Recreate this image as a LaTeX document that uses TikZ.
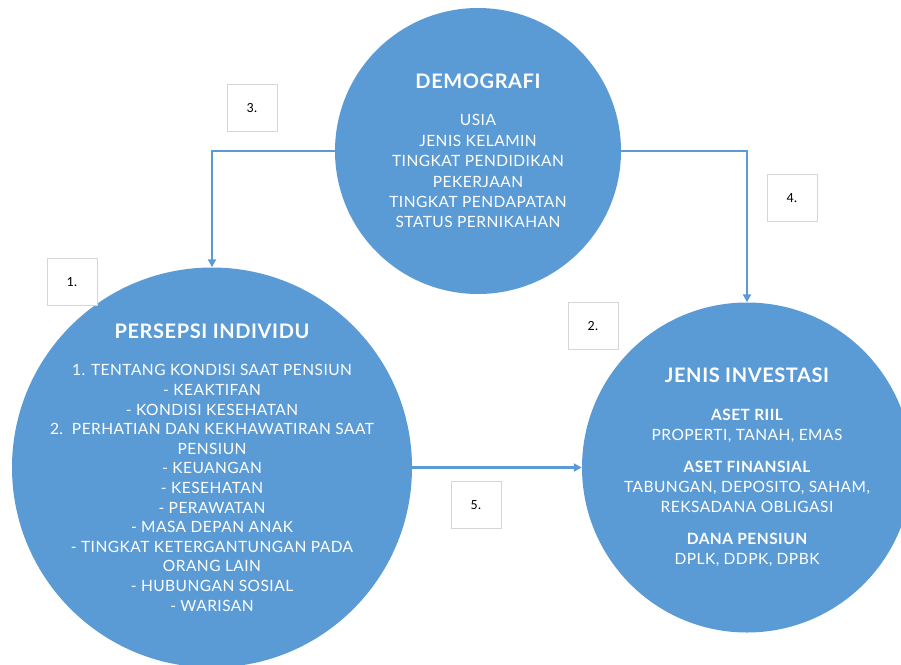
\documentclass[tikz,border=0pt]{standalone}
\usepackage{fontspec}
\setmainfont[LetterSpace=3]{Lato}
\newfontfamily\boxfont{Carlito}
\usetikzlibrary{arrows.meta}
\definecolor{circblue}{HTML}{5B9BD5}
\definecolor{boxgray}{HTML}{D6D6D6}

\begin{document}
\begin{tikzpicture}[x=1pt,y=-1pt,>={Triangle[length=8pt,width=8pt]},
    big circle/.style={circle,fill=circblue,inner sep=0pt},
    circle text/.style={text=white,align=center,font=\fontsize{15.5}{20.4}\selectfont},
    num box/.style={draw=boxgray,fill=white,line width=0.8pt,minimum width=50pt,minimum height=47pt,font=\boxfont\fontsize{14}{16}\selectfont},
    flow/.style={->,draw=circblue,line width=2.4pt}]

    \useasboundingbox (0,0) rectangle (901,664);

    \node[big circle, minimum size=286pt] (demo) at (478,151) {};
    \node[big circle, minimum size=400pt] (persepsi) at (212,467.5) {};
    \node[big circle, minimum size=330pt] (investasi) at (747,467.5) {};

    % \path[every node/.style={text=white}]

    \node[circle text] (demo txt) at (demo) {{\bfseries\fontsize{20}{20}\selectfont DEMOGRAFI}\\[17pt]
        USIA\\JENIS KELAMIN\\TINGKAT PENDIDIKAN\\PEKERJAAN\\TINGKAT PENDAPATAN\\STATUS PERNIKAHAN};
    \node[circle text, font=\fontsize{15.5}{19.6}\selectfont] (persepsi txt) at (persepsi) {{\bfseries\fontsize{20}{20}\selectfont PERSEPSI INDIVIDU}\\[18pt]
        1. TENTANG KONDISI SAAT PENSIUN\\- KEAKTIFAN\\- KONDISI KESEHATAN\\
        2.\ \ PERHATIAN DAN KEKHAWATIRAN SAAT\\PENSIUN\\- KEUANGAN\\- KESEHATAN\\- PERAWATAN\\
        - MASA DEPAN ANAK\\- TINGKAT KETERGANTUNGAN PADA\\ORANG LAIN\\- HUBUNGAN SOSIAL\\- WARISAN};
    \node[circle text] (investasi txt) at (investasi) {{\bfseries\fontsize{20}{20}\selectfont JENIS INVESTASI}\\[17pt]
        {\bfseries ASET RIIL}\\PROPERTI, TANAH, EMAS\\[11pt]
        {\bfseries ASET FINANSIAL}\\TABUNGAN, DEPOSITO, SAHAM,\\REKSADANA OBLIGASI\\[11pt]
        {\bfseries DANA PENSIUN}\\DPLK, DDPK, DPBK};

    \node[num box] (n1) at (72,282) {1.};
    \node[num box] (n2) at (593,326) {2.};
    \node[num box] (n3) at (252,108) {3.};
    \node[num box] (n4) at (792,198) {4.};
    \node[num box] (n5) at (476,505) {5.};

    \draw[flow] (demo.west) -| (persepsi.north);
    \draw[flow] (demo.east) -| (investasi.north);
    \draw[flow] (persepsi.east) -- (investasi.west);

\end{tikzpicture}
\end{document}
